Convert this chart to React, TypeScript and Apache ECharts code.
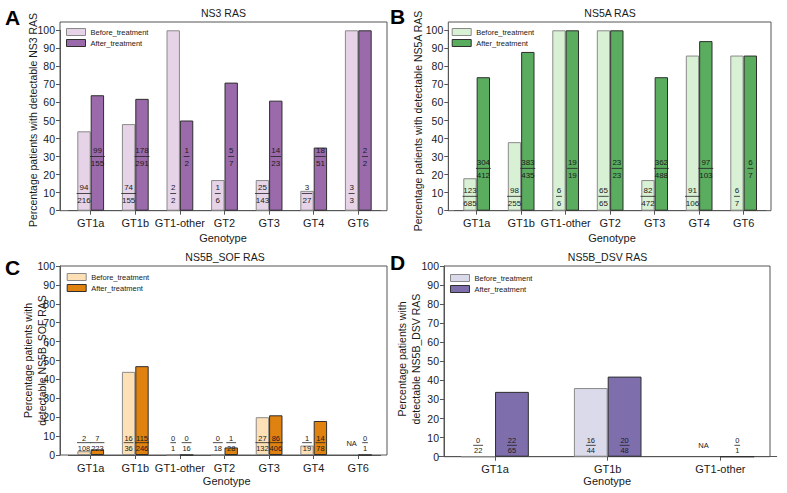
import React, { useEffect, useRef } from "react";
import * as echarts from "echarts";

// ---------- data ----------
const genotypes7 = ["GT1a", "GT1b", "GT1-other", "GT2", "GT3", "GT4", "GT6"];
const genotypesDsv = ["GT1a", "GT1b", "GT1-other"];

// Panel A: NS3 RAS (% patients)
const ns3Before = [44, 48, 100, 17, 17, 11, 100];
const ns3After = [64, 62, 50, 71, 61, 35, 100];
const ns3BeforeNum = [94, 74, 2, 1, 25, 3, 3];
const ns3BeforeDen = [216, 155, 2, 6, 143, 27, 3];
const ns3AfterNum = [99, 178, 1, 5, 14, 18, 2];
const ns3AfterDen = [155, 291, 2, 7, 23, 51, 2];

// Panel B: NS5A RAS
const ns5aBefore = [18, 38, 100, 100, 17, 86, 86];
const ns5aAfter = [74, 88, 100, 100, 74, 94, 86];
const ns5aBeforeNum = [123, 98, 6, 65, 82, 91, 6];
const ns5aBeforeDen = [685, 255, 6, 65, 472, 106, 7];
const ns5aAfterNum = [304, 383, 19, 23, 362, 97, 6];
const ns5aAfterDen = [412, 435, 19, 23, 488, 103, 7];

// Panel C: NS5B_SOF RAS (null = NA)
const sofBefore = [2, 44, 0, 0, 20, 5, null];
const sofAfter = [3, 47, 0, 4, 21, 18, 0];
const sofBeforeNum = [2, 16, 0, 0, 27, 1, null];
const sofBeforeDen = [108, 36, 1, 18, 132, 19, null];
const sofAfterNum = [7, 115, 0, 1, 86, 14, 0];
const sofAfterDen = [223, 246, 16, 28, 406, 78, 1];

// Panel D: NS5B_DSV RAS
const dsvBefore = [0, 36, null];
const dsvAfter = [34, 42, 0];
const dsvBeforeNum = [0, 16, null];
const dsvBeforeDen = [22, 44, null];
const dsvAfterNum = [22, 20, 0];
const dsvAfterDen = [65, 48, 1];

const seriesNames = ["Before_treatment", "After_treatment"];
const yTicks = { min: 0, max: 100, interval: 10 };

// ---------- layout / style ----------
const FONT = "Liberation Sans, Arial, Helvetica, sans-serif";
const AXIS = "#555";
const TXT = "#1a1a1a";

const panels = [
  {
    letter: "A", letterPos: [12.5, 17.5],
    title: "NS3 RAS", titlePos: [223.5, 13.3],
    yName: "Percentage patients with detectable NS3 RAS", yNamePos: [33, 120],
    xNamePos: [223, 237.5],
    frame: { left: 60, top: 22, width: 327, height: 188.7 },
    bars: { left: 68.4, top: 30.3, width: 312.2, height: 180.4 },
    yOffset: 8.4,
    cats: genotypes7,
    before: ns3Before, after: ns3After,
    bNum: ns3BeforeNum, bDen: ns3BeforeDen, aNum: ns3AfterNum, aDen: ns3AfterDen,
    labelY: [9.5, 30], labelDx: 6.7, fs: 8, lh: 12.5,
    colors: ["#e7d3e8", "#9a6aab"],
    legend: { left: 66, top: 28 },
  },
  {
    letter: "B", letterPos: [397.5, 16.5],
    title: "NS5A RAS", titlePos: [610, 13.3],
    yName: "Percentage patients with detectable NS5A RAS", yNamePos: [418, 121],
    xNamePos: [612, 237.5],
    frame: { left: 448.3, top: 22, width: 322.7, height: 188.7 },
    bars: { left: 454.4, top: 30.3, width: 311.5, height: 180.4 },
    yOffset: 6.1,
    cats: genotypes7,
    before: ns5aBefore, after: ns5aAfter,
    bNum: ns5aBeforeNum, bDen: ns5aBeforeDen, aNum: ns5aAfterNum, aDen: ns5aAfterDen,
    labelY: [8, 23.5], labelDx: 6.7, fs: 8, lh: 12.5,
    colors: ["#d8f0d3", "#5aad5f"],
    legend: { left: 451.7, top: 28 },
  },
  {
    letter: "C", letterPos: [12.5, 267.5],
    title: "NS5B_SOF RAS", titlePos: [225, 256.7],
    yName: "Percentage patients with\ndetectable NS5B_SOF RAS", yNamePos: [35, 360.5],
    xNamePos: [226.7, 481],
    frame: { left: 60, top: 266, width: 327, height: 189 },
    bars: { left: 68.4, top: 266, width: 312.2, height: 189 },
    yOffset: 8.4,
    cats: genotypes7,
    before: sofBefore, after: sofAfter,
    bNum: sofBeforeNum, bDen: sofBeforeDen, aNum: sofAfterNum, aDen: sofAfterDen,
    labelY: [6.5, 6.5], labelDx: 6.7, fs: 7.5, lh: 10,
    colors: ["#fde0b6", "#e0820f"],
    legend: { left: 66.7, top: 273 },
  },
  {
    letter: "D", letterPos: [397.5, 262.5],
    title: "NS5B_DSV RAS", titlePos: [607.5, 256.7],
    yName: "Percentage patients with\ndetectable NS5B_DSV RAS", yNamePos: [409, 359],
    xNamePos: [607.2, 481],
    frame: { left: 444, top: 266, width: 326, height: 190.7 },
    bars: { left: 438.7, top: 266, width: 338, height: 190.7 },
    yOffset: -5.3,
    cats: genotypesDsv,
    before: dsvBefore, after: dsvAfter,
    bNum: dsvBeforeNum, bDen: dsvBeforeDen, aNum: dsvAfterNum, aDen: dsvAfterDen,
    labelY: [6, 6], labelDx: 16.9, fs: 7.5, lh: 10,
    colors: ["#dadaeb", "#7e6fac"],
    legend: { left: 450, top: 274 },
  },
];

const BORDERS = ["#8a8a8a", "#2e2e2e"];

function buildOption() {
  const grid: any[] = [];
  const xAxis: any[] = [];
  const yAxis: any[] = [];
  const series: any[] = [];
  const legend: any[] = [];
  const graphic: any[] = [];

  panels.forEach((p, k) => {
    const gFrame = 2 * k;
    const gBars = 2 * k + 1;
    grid.push({ ...p.frame, show: true, borderColor: AXIS, borderWidth: 1, backgroundColor: "transparent", containLabel: false });
    grid.push({ ...p.bars, show: false, containLabel: false });

    xAxis.push({ gridIndex: gFrame, type: "value", show: false, min: 0, max: 1 });
    yAxis.push({ gridIndex: gFrame, type: "value", show: false, min: 0, max: 1 });

    xAxis.push({
      gridIndex: gBars,
      type: "category",
      data: p.cats,
      axisLine: { show: true, lineStyle: { color: AXIS, width: 1 } },
      axisTick: { show: true, alignWithLabel: true, length: 4, lineStyle: { color: AXIS } },
      axisLabel: { interval: 0, fontSize: 11, color: TXT, margin: 7, fontFamily: FONT },
      splitLine: { show: false },
    });
    yAxis.push({
      gridIndex: gBars,
      type: "value",
      min: yTicks.min,
      max: yTicks.max,
      interval: yTicks.interval,
      offset: p.yOffset,
      axisLine: { show: true, lineStyle: { color: AXIS, width: 1 } },
      axisTick: { show: true, length: 4, lineStyle: { color: AXIS } },
      axisLabel: { fontSize: 10.5, color: TXT, margin: 5, fontFamily: FONT },
      splitLine: { show: false },
    });

    const xi = xAxis.length - 1;
    const yi = yAxis.length - 1;
    const vals = [p.before, p.after];
    const nums = [p.bNum, p.aNum];
    const dens = [p.bDen, p.aDen];
    const digitW = p.fs * 0.556;

    [0, 1].forEach((s) => {
      const dx = s === 0 ? -p.labelDx : p.labelDx;
      series.push({
        name: seriesNames[s],
        type: "bar",
        xAxisIndex: xi,
        yAxisIndex: yi,
        data: vals[s].map((v) => (v == null ? "-" : v)),
        barGap: "0%",
        barCategoryGap: "40%",
        itemStyle: { color: p.colors[s], borderColor: BORDERS[s], borderWidth: 1 },
        emphasis: { disabled: true },
        silent: true,
      });
      series.push({
        name: "labels" + k + s,
        type: "scatter",
        xAxisIndex: xi,
        yAxisIndex: yi,
        symbol: "rect",
        symbolOffset: [dx, 0],
        silent: true,
        z: 5,
        itemStyle: { color: "#222", opacity: 1 },
        emphasis: { disabled: true },
        data: p.cats.map((c, i) => {
          const n = nums[s][i];
          const d = dens[s][i];
          if (n == null || d == null) {
            return { value: [i, p.labelY[s]], symbolSize: 0, label: { formatter: "NA" } };
          }
          const dg = Math.max(String(n).length, String(d).length);
          return {
            value: [i, p.labelY[s]],
            symbolSize: [dg * digitW + 1.5, 0.8],
            label: { formatter: `${n}\n${d}` },
          };
        }),
        label: {
          show: true,
          position: "inside",
          offset: [0, 0.5],
          align: "center",
          verticalAlign: "middle",
          color: TXT,
          fontSize: p.fs,
          lineHeight: p.lh,
          fontFamily: FONT,
        },
      });
    });

    legend.push({
      orient: "vertical",
      left: p.legend.left,
      top: p.legend.top,
      padding: 0,
      itemGap: 3,
      itemWidth: 19,
      itemHeight: 7,
      icon: "rect",
      selectedMode: false,
      textStyle: { fontSize: 7.5, color: TXT, fontFamily: FONT },
      data: seriesNames.map((nm, s) => ({
        name: nm,
        itemStyle: { color: p.colors[s], borderColor: BORDERS[s], borderWidth: 1 },
      })),
    });

    const txt = (text: string, x: number, y: number, fontSize: number, extra: any = {}) => ({
      type: "text",
      x,
      y,
      silent: true,
      ...extra,
      style: { text, fontSize, fill: TXT, fontFamily: FONT, align: "center", verticalAlign: "middle", ...(extra.style || {}) },
    });
    graphic.push(txt(p.letter, p.letterPos[0], p.letterPos[1], 21, { style: { fontWeight: "bold", fill: "#000" } }));
    graphic.push(txt(p.title, p.titlePos[0], p.titlePos[1], 10.5));
    graphic.push(txt("Genotype", p.xNamePos[0], p.xNamePos[1], 11));
    graphic.push(txt(p.yName, p.yNamePos[0], p.yNamePos[1], 10.5, { rotation: Math.PI / 2, style: { lineHeight: 14 } }));
  });

  return {
    animation: false,
    backgroundColor: "#ffffff",
    textStyle: { fontFamily: FONT },
    grid,
    xAxis,
    yAxis,
    series,
    legend,
    graphic,
  };
}

export default function App() {
  const ref = useRef<HTMLDivElement>(null);
  useEffect(() => {
    document.body.style.margin = "0";
    if (!ref.current) return;
    const chart = echarts.init(ref.current, undefined, { renderer: "svg" });
    chart.setOption(buildOption() as any);
    return () => chart.dispose();
  }, []);
  return <div ref={ref} style={{ width: 787, height: 493 }} />;
}
